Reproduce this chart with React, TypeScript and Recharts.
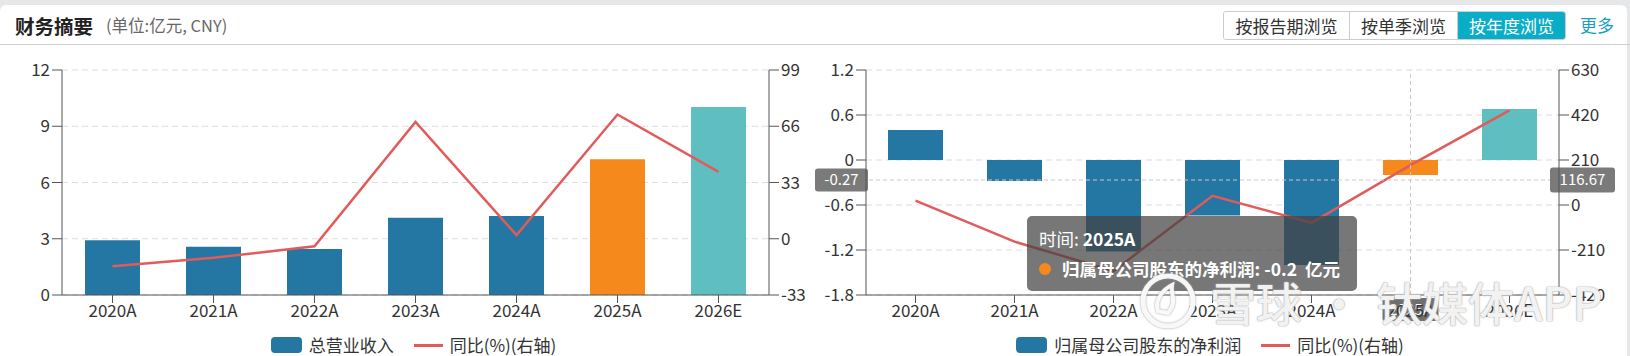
import React from "react";
import {
  ComposedChart,
  Bar,
  Line,
  XAxis,
  YAxis,
  CartesianGrid,
  Cell,
  Legend,
  ReferenceLine,
  Tooltip,
} from "recharts";

// 数据（单位：亿元 / %）
const years = ["2020A", "2021A", "2022A", "2023A", "2024A", "2025A", "2026E"];
const revenue = [2.92, 2.58, 2.45, 4.12, 4.21, 7.24, 10.03];
const revenueYoY = [-16.1, -11.2, -4.4, 68.5, 2.1, 72.9, 39.2];
const netProfit = [0.4, -0.28, -1.22, -0.74, -1.4, -0.2, 0.68];
const netProfitYoY = [20, -171, -308, 43, -83, 186, 442];

const revTicksLeft = [0, 3, 6, 9, 12];
const revTicksRight = [-33, 0, 33, 66, 99];
const profitTicksLeft = [-1.8, -1.2, -0.6, 0, 0.6, 1.2];
const profitTicksRight = [-420, -210, 0, 210, 420, 630];

const hoverYear = "2025A";
const hoverRightValue = 116.67;

const BLUE = "#2477a3";
const ORANGE = "#f5891b";
const TEAL = "#5fbec0";
const RED = "#e15b5b";
const AXIS = "#555";
const FONT = "'Noto Sans CJK SC', 'Noto Sans', sans-serif";

const revData = years.map((year, i) => ({ year, value: revenue[i], yoy: revenueYoY[i] }));
const profitData = years.map((year, i) => ({ year, profit: netProfit[i], yoy: netProfitYoY[i] }));

const barColor = (i: number) => (i === 5 ? ORANGE : i === 6 ? TEAL : BLUE);

const tickStyle = { fill: "#333", fontSize: 17, fontFamily: FONT };

const LegendRow = ({ name }: { name: string }) => (
  <div
    style={{
      display: "flex",
      justifyContent: "center",
      alignItems: "center",
      height: 22,
      lineHeight: "22px",
      paddingTop: 4,
      fontSize: 17,
      color: "#333",
      fontFamily: FONT,
      overflow: "visible",
    }}
  >
    <span style={{ width: 31, height: 16, borderRadius: 4, background: BLUE, marginRight: 7 }} />
    <span>{name}</span>
    <span style={{ width: 29, height: 3, background: RED, margin: "0 7px 0 20px" }} />
    <span>同比(%)(右轴)</span>
  </div>
);

const crossBox = "#7a7a7a";

const HorizontalCrossLabel = (props: any) => {
  const vb = props.viewBox || {};
  const y = vb.y ?? 0;
  const left = vb.x ?? 0;
  const right = left + (vb.width ?? 0);
  const leftText = ((hoverRightValue - 210) / 350).toFixed(2);
  return (
    <g fontFamily={FONT} fontSize={15}>
      <rect x={left - 51} y={y - 11.5} width={53} height={23} rx={3} fill={crossBox} />
      <text x={left - 24.5} y={y + 5} fill="#fff" textAnchor="middle">
        {leftText}
      </text>
      <rect x={right - 9} y={y - 12.5} width={65} height={25} rx={3} fill={crossBox} />
      <text x={right + 23.5} y={y + 5.5} fill="#fff" textAnchor="middle">
        {hoverRightValue.toFixed(2)}
      </text>
    </g>
  );
};

const VerticalCrossLabel = (props: any) => {
  const vb = props.viewBox || {};
  const x = vb.x ?? 0;
  const bottom = (vb.y ?? 0) + (vb.height ?? 0);
  return (
    <g fontFamily={FONT} fontSize={15}>
      <rect x={x - 28} y={bottom + 3} width={56} height={23} rx={3} fill="#6e6e6e" />
      <text x={x} y={bottom + 20} fill="#fff" textAnchor="middle">
        {hoverYear}
      </text>
    </g>
  );
};

const ProfitTip = ({ payload, label }: any) => {
  const item = (payload || []).find((p: any) => p.dataKey === "profit");
  if (!item) return null;
  return (
    <div
      style={{
        width: 330,
        height: 75,
        boxSizing: "border-box",
        padding: "8px 12px",
        background: "rgba(67,67,67,0.72)",
        borderRadius: 5,
        color: "#fff",
        fontFamily: FONT,
        fontSize: 17.5,
        lineHeight: "30px",
        whiteSpace: "nowrap",
      }}
    >
      <div>
        时间: <b>{label}</b>
      </div>
      <div style={{ display: "flex", alignItems: "center", fontWeight: 700 }}>
        <span style={{ width: 12, height: 12, borderRadius: 6, background: ORANGE, marginRight: 11, flexShrink: 0 }} />
        归属母公司股东的净利润: {item.value}&nbsp;&nbsp;亿元
      </div>
    </div>
  );
};

const RevenueChart = () => (
  <ComposedChart width={815} height={356} data={revData} margin={{ top: 70, right: 0, bottom: 0, left: 12 }}>
    <CartesianGrid yAxisId="left" vertical={false} stroke="#ddd" strokeDasharray="6 4" />
    <XAxis
      dataKey="year"
      height={35}
      tickSize={8}
      tickMargin={2}
      interval={0}
      axisLine={{ stroke: AXIS }}
      tickLine={{ stroke: AXIS }}
      tick={tickStyle}
    />
    <YAxis
      yAxisId="left"
      width={50}
      domain={[0, 12]}
      ticks={revTicksLeft}
      interval={0}
      tickSize={10}
      tickMargin={2}
      axisLine={{ stroke: AXIS }}
      tickLine={{ stroke: AXIS }}
      tick={tickStyle}
    />
    <YAxis
      yAxisId="right"
      orientation="right"
      width={46}
      domain={[-33, 99]}
      ticks={revTicksRight}
      interval={0}
      tickSize={10}
      tickMargin={2}
      axisLine={{ stroke: AXIS }}
      tickLine={{ stroke: AXIS }}
      tick={tickStyle}
    />
    <Bar yAxisId="left" dataKey="value" barSize={55} isAnimationActive={false}>
      {revData.map((_d, i) => (
        <Cell key={i} fill={barColor(i)} />
      ))}
    </Bar>
    <Line
      yAxisId="right"
      dataKey="yoy"
      type="linear"
      stroke={RED}
      strokeWidth={2.5}
      dot={false}
      activeDot={false}
      isAnimationActive={false}
    />
    <Legend verticalAlign="bottom" content={() => <LegendRow name="总营业收入" />} />
  </ComposedChart>
);

const ProfitChart = () => (
  <ComposedChart width={815} height={356} data={profitData} margin={{ top: 70, right: 25, bottom: 0, left: 0 }}>
    <CartesianGrid yAxisId="left" vertical={false} stroke="#ddd" strokeDasharray="6 4" />
    <XAxis
      dataKey="year"
      height={35}
      tickSize={8}
      tickMargin={2}
      interval={0}
      axisLine={{ stroke: AXIS }}
      tickLine={{ stroke: AXIS }}
      tick={tickStyle}
    />
    <YAxis
      yAxisId="left"
      width={51}
      domain={[-1.8, 1.2]}
      ticks={profitTicksLeft}
      interval={0}
      tickSize={10}
      tickMargin={2}
      axisLine={{ stroke: AXIS }}
      tickLine={{ stroke: AXIS }}
      tick={tickStyle}
    />
    <YAxis
      yAxisId="right"
      orientation="right"
      width={46}
      domain={[-420, 630]}
      ticks={profitTicksRight}
      interval={0}
      tickSize={10}
      tickMargin={2}
      axisLine={{ stroke: AXIS }}
      tickLine={{ stroke: AXIS }}
      tick={tickStyle}
    />
    <Bar yAxisId="left" dataKey="profit" barSize={55} isAnimationActive={false}>
      {profitData.map((_d, i) => (
        <Cell key={i} fill={barColor(i)} />
      ))}
    </Bar>
    <Line
      yAxisId="right"
      dataKey="yoy"
      type="linear"
      stroke={RED}
      strokeWidth={2.5}
      dot={false}
      activeDot={false}
      isAnimationActive={false}
    />
    <ReferenceLine
      yAxisId="left"
      x={hoverYear}
      stroke="#c8c8c8"
      strokeDasharray="4 3"
      label={<VerticalCrossLabel />}
    />
    <ReferenceLine
      yAxisId="right"
      y={hoverRightValue}
      stroke="#c8c8c8"
      strokeDasharray="4 3"
      label={<HorizontalCrossLabel />}
    />
    <Tooltip
      active
      defaultIndex={5}
      cursor={false}
      isAnimationActive={false}
      position={{ x: 212, y: 216 }}
      wrapperStyle={{ zIndex: 5, outline: "none" }}
      content={(p: any) => <ProfitTip {...p} />}
    />
    <Legend verticalAlign="bottom" content={() => <LegendRow name="归属母公司股东的净利润" />} />
  </ComposedChart>
);

const buttons = ["按报告期浏览", "按单季浏览", "按年度浏览"];
const buttonWidths = [125, 108, 108];

const Watermark = () => (
  <div
    style={{
      position: "absolute",
      left: 1138,
      top: 268,
      display: "flex",
      alignItems: "center",
      zIndex: 10,
      pointerEvents: "none",
      color: "rgba(255,255,255,0.88)",
      textShadow: "0 0 1px #999, 0 0 2px #bbb",
      fontFamily: FONT,
      fontSize: 46,
      fontWeight: 500,
      whiteSpace: "nowrap",
    }}
  >
    <svg width={60} height={60} style={{ marginRight: 12, filter: "drop-shadow(0 0 1px #999)" }}>
      <circle cx={30} cy={30} r={25} fill="none" stroke="rgba(255,255,255,0.92)" strokeWidth={5} />
      <path d="M20 40 C 16 28, 26 18, 34 14 C 32 24, 40 30, 30 42 Z" fill="none" stroke="rgba(255,255,255,0.92)" strokeWidth={4} />
    </svg>
    <span>雪球</span>
    <span style={{ margin: "0 14px" }}>·</span>
    <span>钛媒体APP</span>
  </div>
);

export default function App() {
  return (
    <div
      style={{
        position: "absolute",
        left: 0,
        top: 0,
        width: 1630,
        height: 356,
        background: "#e6e7e9",
        overflow: "hidden",
        fontFamily: FONT,
      }}
    >
      <div
        style={{
          position: "absolute",
          left: 0,
          top: 5,
          width: 1627,
          height: 360,
          background: "#fff",
          borderRadius: 6,
        }}
      />
      <div style={{ position: "absolute", left: 0, top: 44, width: 1630, height: 1, background: "#cfcfcf" }} />
      <div style={{ position: "absolute", left: 15, top: 11, fontSize: 19.5, fontWeight: 700, color: "#222" }}>财务摘要</div>
      <div style={{ position: "absolute", left: 106, top: 13, fontSize: 16.5, color: "#666" }}>(单位:亿元, CNY)</div>
      <div
        style={{
          position: "absolute",
          left: 1223,
          top: 11,
          height: 29,
          display: "flex",
          border: "1px solid #ccc",
          borderRadius: 3,
          overflow: "hidden",
          boxSizing: "border-box",
        }}
      >
        {buttons.map((b, i) => (
          <div
            key={b}
            style={{
              width: buttonWidths[i],
              lineHeight: "27px",
              textAlign: "center",
              fontSize: 17,
              color: i === 2 ? "#fff" : "#333",
              background: i === 2 ? "#0aadc8" : "#fff",
              borderLeft: i > 0 ? "1px solid #ccc" : "none",
              boxSizing: "border-box",
            }}
          >
            {b}
          </div>
        ))}
      </div>
      <div style={{ position: "absolute", left: 1580, top: 12, fontSize: 17, color: "#1a9fbf" }}>更多</div>
      <div style={{ position: "absolute", left: 0, top: 0 }}>
        <RevenueChart />
      </div>
      <div style={{ position: "absolute", left: 815, top: 0 }}>
        <ProfitChart />
      </div>
      <Watermark />
    </div>
  );
}
